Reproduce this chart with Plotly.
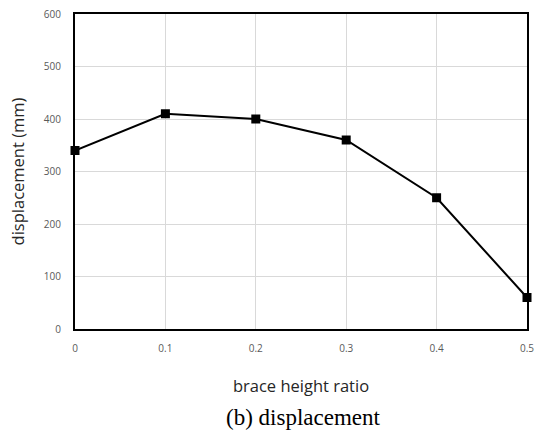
import plotly.graph_objects as go

ratio = [0, 0.1, 0.2, 0.3, 0.4, 0.5]
displacement = [340, 410, 400, 360, 250, 60]
x_ticks = [0, 0.1, 0.2, 0.3, 0.4, 0.5]
y_ticks = [0, 100, 200, 300, 400, 500, 600]

fig = go.Figure()
fig.add_trace(go.Scatter(
    x=ratio, y=displacement, mode="lines+markers",
    line=dict(color="black", width=2),
    marker=dict(symbol="square", size=9, color="black"),
    cliponaxis=False, showlegend=False,
))

fig.update_layout(
    width=538, height=436,
    margin=dict(l=75, r=11, t=14, b=107, autoexpand=False),
    paper_bgcolor="white", plot_bgcolor="white",
    font=dict(family="Open Sans, DejaVu Sans, sans-serif"),
)
fig.update_xaxes(
    range=[0, 0.5], tickvals=x_ticks, ticktext=[str(v) for v in x_ticks],
    showgrid=True, gridcolor="#d9d9d9", gridwidth=1,
    showline=True, linecolor="black", linewidth=2, mirror=True,
    zeroline=False, ticks="", ticklabelstandoff=9, automargin=False,
    tickfont=dict(size=10, color="#595959"),
    title=dict(text="brace height ratio", font=dict(size=16.5, color="#262626"), standoff=26),
)
fig.update_yaxes(
    range=[0, 600], tickvals=y_ticks,
    showgrid=True, gridcolor="#d9d9d9", gridwidth=1,
    showline=True, linecolor="black", linewidth=2, mirror=True,
    zeroline=False, ticks="", ticklabelstandoff=10, automargin=False,
    tickfont=dict(size=10, color="#595959"),
    title=dict(text="displacement (mm)", font=dict(size=16.5, color="#262626"), standoff=15),
)
fig.add_annotation(
    text="(b) displacement", xref="paper", yref="paper",
    x=0.505, y=-0.28, xanchor="center", yanchor="middle",
    showarrow=False, font=dict(family="Liberation Serif, Times New Roman, serif", size=23, color="black"),
)
fig.write_html("out.html")
